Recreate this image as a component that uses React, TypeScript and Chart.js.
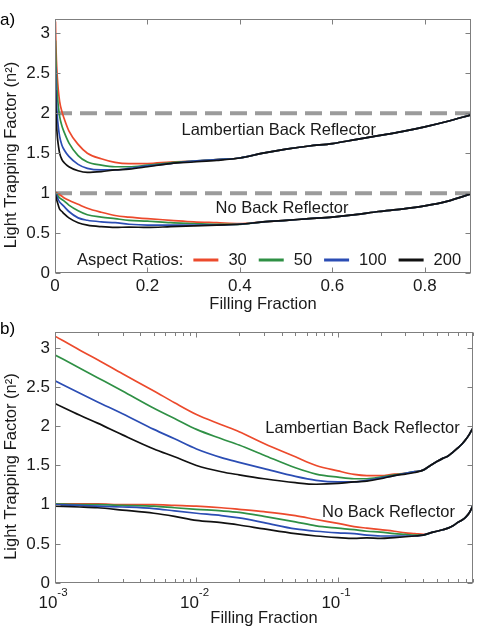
import React, { useEffect, useRef } from "react";
import { Chart, registerables } from "chart.js";

Chart.register(...registerables);

const FONT = '"Liberation Sans", Arial, Helvetica, sans-serif';
const INK = "#1a1a1a";
const FRAME = "#7f7f7f";
const TICK_SIZE = 17;
const TEXT_SIZE = 16.5;

// Filling fraction sample points
const FILL = [
  0.001, 0.0015, 0.002, 0.003, 0.005, 0.007, 0.01, 0.015, 0.02, 0.03,
  0.05, 0.07, 0.1, 0.13, 0.16, 0.2, 0.25, 0.3, 0.35, 0.4,
  0.45, 0.5, 0.55, 0.6, 0.65, 0.7, 0.75, 0.8, 0.85, 0.9,
];

// Light trapping factor with a Lambertian back reflector, per aspect ratio
const LAMB_30 = [
  3.15, 2.97, 2.85, 2.67, 2.45, 2.3, 2.15, 2.02, 1.93, 1.78,
  1.61, 1.5, 1.43, 1.385, 1.37, 1.37, 1.39, 1.4, 1.42, 1.44,
  1.5, 1.55, 1.59, 1.62, 1.67, 1.72, 1.77, 1.83, 1.9, 1.98,
];
const LAMB_50 = [
  2.91, 2.74, 2.62, 2.45, 2.23, 2.1, 1.96, 1.84, 1.76, 1.63,
  1.47, 1.39, 1.35, 1.33, 1.33, 1.35, 1.38, 1.4, 1.42, 1.44,
  1.5, 1.55, 1.59, 1.62, 1.67, 1.72, 1.77, 1.83, 1.9, 1.98,
];
const LAMB_100 = [
  2.58, 2.42, 2.31, 2.16, 1.96, 1.84, 1.71, 1.6, 1.54, 1.46,
  1.36, 1.31, 1.29, 1.29, 1.31, 1.34, 1.37, 1.4, 1.42, 1.44,
  1.5, 1.55, 1.59, 1.62, 1.67, 1.72, 1.77, 1.83, 1.9, 1.98,
];
const LAMB_200 = [
  2.29, 2.14, 2.04, 1.89, 1.71, 1.61, 1.5, 1.42, 1.38, 1.33,
  1.28, 1.26, 1.27, 1.29, 1.3, 1.33, 1.37, 1.39, 1.41, 1.44,
  1.5, 1.55, 1.59, 1.62, 1.67, 1.72, 1.77, 1.83, 1.9, 1.98,
];

// Light trapping factor without a back reflector, per aspect ratio
const NOBR_30 = [
  1.01, 1.01, 1.01, 1.0, 1.0, 0.99, 0.98, 0.96, 0.94, 0.91,
  0.86, 0.81, 0.76, 0.72, 0.7, 0.68, 0.66, 0.64, 0.63, 0.62,
  0.64, 0.66, 0.68, 0.7, 0.73, 0.77, 0.8, 0.84, 0.9, 0.99,
];
const NOBR_50 = [
  1.01, 1.0, 1.0, 0.99, 0.98, 0.96, 0.94, 0.92, 0.9, 0.85,
  0.78, 0.73, 0.7, 0.68, 0.66, 0.65, 0.63, 0.62, 0.61, 0.61,
  0.64, 0.66, 0.68, 0.7, 0.73, 0.77, 0.8, 0.84, 0.9, 0.99,
];
const NOBR_100 = [
  1.0, 0.99, 0.98, 0.97, 0.95, 0.92, 0.89, 0.86, 0.83, 0.77,
  0.69, 0.66, 0.64, 0.63, 0.61, 0.6, 0.6, 0.6, 0.6, 0.61,
  0.64, 0.66, 0.68, 0.7, 0.73, 0.77, 0.8, 0.84, 0.9, 0.99,
];
const NOBR_200 = [
  0.98, 0.97, 0.96, 0.93, 0.89, 0.85, 0.8, 0.77, 0.74, 0.69,
  0.63, 0.6, 0.58, 0.57, 0.575, 0.57, 0.58, 0.59, 0.6, 0.61,
  0.64, 0.66, 0.68, 0.7, 0.73, 0.77, 0.8, 0.84, 0.9, 0.99,
];

const ASPECT_RATIOS = ["30", "50", "100", "200"];
const COLORS = ["#ec4a2c", "#2f9045", "#2b4db4", "#111111"];
const LAMBERTIAN = [LAMB_30, LAMB_50, LAMB_100, LAMB_200];
const NO_REFLECTOR = [NOBR_30, NOBR_50, NOBR_100, NOBR_200];

// Reference limits: 2n² (Lambertian) and n² (no reflector), in units of n²
const LIMITS = [2, 1];

const LOG_LABELS = [0.001, 0.01, 0.1];

const Y_TITLE = "Light Trapping Factor (n²)";
const X_TITLE = "Filling Fraction";

type Note = { text: string; x: number; y: number };

const plainNumber = (v: number) => String(Math.round(v * 10) / 10);

function curveSets() {
  const sets: any[] = [];
  [LAMBERTIAN, NO_REFLECTOR].forEach((group) =>
    group.forEach((vals, i) =>
      sets.push({
        data: FILL.map((f, k) => ({ x: f, y: vals[k] })),
        borderColor: COLORS[i],
        borderWidth: 1.7,
        pointRadius: 0,
        cubicInterpolationMode: "monotone",
        fill: false,
        order: 3 - i,
      })
    )
  );
  return sets;
}

function limitSets(xMin: number, xMax: number) {
  return LIMITS.map((v) => ({
    data: [
      { x: xMin, y: v },
      { x: xMax, y: v },
    ],
    borderColor: "#9b9b9b",
    borderWidth: 4,
    borderDash: [17, 8],
    borderCapStyle: "butt",
    pointRadius: 0,
    fill: false,
    order: 10,
  }));
}

function panelPlugin(opts: {
  tag: string;
  tagY: number;
  log: boolean;
  notes: Note[];
  legend: boolean;
}) {
  return {
    id: "panelDeco",
    afterDraw(chart: any) {
      const { ctx, chartArea: a } = chart;
      const xs = chart.scales.x;
      const ys = chart.scales.y;
      ctx.save();

      // box
      ctx.strokeStyle = FRAME;
      ctx.lineWidth = 1;
      const L = Math.round(a.left) + 0.5;
      const T = Math.round(a.top) + 0.5;
      const R = Math.round(a.right) - 0.5;
      const B = Math.round(a.bottom) - 0.5;
      ctx.strokeRect(L, T, R - L, B - T);

      const seg = (x1: number, y1: number, x2: number, y2: number) => {
        ctx.beginPath();
        ctx.moveTo(x1, y1);
        ctx.lineTo(x2, y2);
        ctx.stroke();
      };

      // inward tick marks on all four sides
      let xTicks: { v: number; len: number }[];
      if (opts.log) {
        xTicks = [];
        LOG_LABELS.forEach((d) => {
          for (let k = 1; k <= 9; k++) {
            const v = k * d;
            if (v <= xs.max + 1e-9) xTicks.push({ v, len: k === 1 ? 5 : 3.5 });
          }
        });
      } else {
        xTicks = xs.ticks.map((t: any) => ({ v: t.value, len: 5 }));
      }
      xTicks.forEach(({ v, len }) => {
        const px = Math.round(xs.getPixelForValue(v)) + 0.5;
        seg(px, B, px, B - len);
        seg(px, T, px, T + len);
      });
      ys.ticks.forEach((t: any) => {
        const py = Math.round(ys.getPixelForValue(t.value)) + 0.5;
        seg(L, py, L + 5, py);
        seg(R, py, R - 5, py);
      });

      ctx.fillStyle = INK;

      // decade labels for the logarithmic axis
      if (opts.log) {
        LOG_LABELS.forEach((v) => {
          const px = xs.getPixelForValue(v) - 2;
          const exp = String(Math.round(Math.log10(v)));
          ctx.font = `${TICK_SIZE}px ${FONT}`;
          const w1 = ctx.measureText("10").width;
          ctx.font = `11.5px ${FONT}`;
          const w2 = ctx.measureText(exp).width;
          const x0 = px - (w1 + w2) / 2;
          ctx.textAlign = "left";
          ctx.textBaseline = "alphabetic";
          ctx.font = `${TICK_SIZE}px ${FONT}`;
          ctx.fillText("10", x0, a.bottom + 25);
          ctx.font = `11.5px ${FONT}`;
          ctx.fillText(exp, x0 + w1, a.bottom + 13);
        });
      }

      // y axis title
      ctx.save();
      ctx.font = `${TEXT_SIZE}px ${FONT}`;
      ctx.textAlign = "center";
      ctx.textBaseline = "middle";
      ctx.translate(11, (a.top + a.bottom) / 2 + 9);
      ctx.rotate(-Math.PI / 2);
      ctx.fillText(Y_TITLE, 0, 0);
      ctx.restore();

      // curve annotations
      ctx.font = `${TEXT_SIZE}px ${FONT}`;
      ctx.textAlign = "center";
      ctx.textBaseline = "middle";
      opts.notes.forEach((n) => {
        ctx.fillText(n.text, xs.getPixelForValue(n.x), ys.getPixelForValue(n.y));
      });

      // legend row inside the axes
      if (opts.legend) {
        ctx.textAlign = "left";
        let x = a.left + 22;
        const y = a.bottom - 13;
        const head = "Aspect Ratios:";
        ctx.fillText(head, x, y);
        x += ctx.measureText(head).width + 10;
        ASPECT_RATIOS.forEach((r, i) => {
          ctx.strokeStyle = COLORS[i];
          ctx.lineWidth = 3;
          seg(x, y, x + 25, y);
          x += 35;
          ctx.fillText(r, x, y);
          x += ctx.measureText(r).width + 12;
        });
      }

      // panel tag
      ctx.font = `17px ${FONT}`;
      ctx.textAlign = "left";
      ctx.textBaseline = "alphabetic";
      ctx.fillStyle = "#000";
      ctx.fillText(opts.tag, 0, opts.tagY);

      ctx.restore();
    },
  };
}

function baseOptions(pad: any) {
  return {
    animation: false,
    responsive: false,
    maintainAspectRatio: false,
    events: [],
    layout: { padding: pad },
    plugins: { legend: { display: false }, tooltip: { enabled: false } },
  };
}

function yAxis(max: number) {
  return {
    type: "linear",
    min: 0,
    max,
    ticks: {
      stepSize: 0.5,
      includeBounds: false,
      padding: 5,
      color: INK,
      font: { size: TICK_SIZE },
      callback: (v: number) => plainNumber(v),
    },
    grid: { display: false, drawTicks: false },
    border: { display: false },
    afterFit: (s: any) => {
      s.width = 55;
    },
  };
}

function xTitle(bottom: number) {
  return {
    display: true,
    text: X_TITLE,
    color: INK,
    font: { size: TEXT_SIZE },
    padding: { top: 0, bottom },
  };
}

export default function App() {
  const refA = useRef<HTMLCanvasElement>(null);
  const refB = useRef<HTMLCanvasElement>(null);

  useEffect(() => {
    Chart.defaults.font.family = FONT;
    Chart.defaults.color = INK;

    const chartA = new Chart(refA.current as HTMLCanvasElement, {
      type: "line",
      data: { datasets: [...limitSets(0, 0.9), ...curveSets()] as any },
      options: {
        ...baseOptions({ top: 19, right: 11, left: 0, bottom: 0 }),
        scales: {
          x: {
            type: "linear",
            min: 0,
            max: 0.9,
            ticks: {
              stepSize: 0.2,
              includeBounds: false,
              padding: 3,
              maxRotation: 0,
              color: INK,
              font: { size: TICK_SIZE },
              callback: (v: number) => plainNumber(v),
            },
            grid: { display: false, drawTicks: false },
            border: { display: false },
            title: xTitle(3),
            afterFit: (s: any) => {
              s.height = 44;
            },
          },
          y: yAxis(3.18),
        },
      } as any,
      plugins: [
        panelPlugin({
          tag: "a)",
          tagY: 25,
          log: false,
          legend: true,
          notes: [
            { text: "Lambertian Back Reflector", x: 0.484, y: 1.79 },
            { text: "No Back Reflector", x: 0.491, y: 0.81 },
          ],
        }),
      ],
    });

    const chartB = new Chart(refB.current as HTMLCanvasElement, {
      type: "line",
      data: { datasets: curveSets() as any },
      options: {
        ...baseOptions({ top: 10, right: 9, left: 0, bottom: 0 }),
        scales: {
          x: {
            type: "logarithmic",
            min: 0.001,
            max: 0.9,
            ticks: { display: false },
            grid: { display: false, drawTicks: false },
            border: { display: false },
            title: xTitle(6),
            afterFit: (s: any) => {
              s.height = 51;
            },
          },
          y: yAxis(3.2),
        },
      } as any,
      plugins: [
        panelPlugin({
          tag: "b)",
          tagY: 17,
          log: true,
          legend: false,
          notes: [
            { text: "Lambertian Back Reflector", x: 0.149, y: 1.97 },
            { text: "No Back Reflector", x: 0.2275, y: 0.9 },
          ],
        }),
      ],
    });

    return () => {
      chartA.destroy();
      chartB.destroy();
    };
  }, []);

  const canvasStyle = (top: number): React.CSSProperties => ({
    position: "absolute",
    left: 0,
    top,
    width: 482,
    height: 317,
    display: "block",
  });

  return (
    <div
      style={{
        position: "fixed",
        left: 0,
        top: 0,
        width: 482,
        height: 634,
        background: "#ffffff",
      }}
    >
      <canvas ref={refA} width={482} height={317} style={canvasStyle(0)} />
      <canvas ref={refB} width={482} height={317} style={canvasStyle(317)} />
    </div>
  );
}
